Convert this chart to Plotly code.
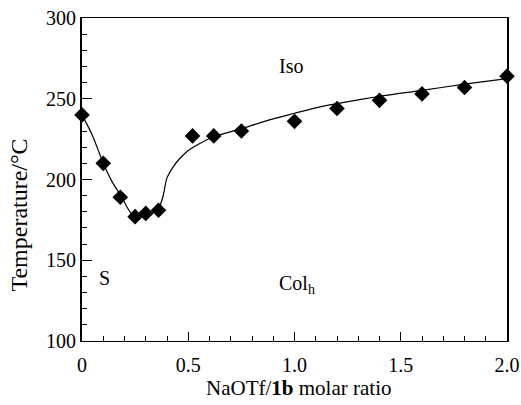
import plotly.graph_objects as go

# Measured transition temperatures vs NaOTf/1b molar ratio
ratio = [0, 0.1, 0.18, 0.25, 0.3, 0.36, 0.52, 0.62, 0.75, 1.0, 1.2, 1.4, 1.6, 1.8, 2.0]
temperature = [240, 210, 189, 177, 179, 181, 227, 227, 230, 236, 244, 249, 253, 257, 264]

# Hand-drawn phase boundary guide line
boundary_x = [0, 0.05, 0.1, 0.14, 0.185, 0.24, 0.295, 0.355, 0.38, 0.40, 0.43, 0.46,
              0.5, 0.55, 0.62, 0.74, 0.87, 1.0, 1.12, 1.2, 1.4, 1.6, 1.8, 2.0]
boundary_y = [240, 227, 210, 199, 189.5, 178, 179, 181, 189, 201, 208, 213,
              218, 222, 226.5, 231, 236.5, 241, 245, 247, 251.5, 255.2, 259, 262.5]

# Phase region labels
phase_labels = ["Iso", "S", "Col<sub>h</sub>"]
phase_x = [0.916, 0.07, 0.916]
phase_y = [270.5, 139, 135]

x_ticks = [0, 0.5, 1.0, 1.5, 2.0]
x_tick_text = ["0", "0.5", "1.0", "1.5", "2.0"]
y_ticks = [100, 150, 200, 250, 300]

FONT = "Liberation Serif, Times New Roman, serif"

fig = go.Figure()
fig.add_trace(go.Scatter(
    x=boundary_x, y=boundary_y, mode="lines",
    line=dict(color="black", width=1.2, shape="spline", smoothing=0.8),
    hoverinfo="skip", showlegend=False,
))
fig.add_trace(go.Scatter(
    x=ratio, y=temperature, mode="markers",
    marker=dict(symbol="diamond", size=12, color="black"),
    showlegend=False, cliponaxis=False,
))

for txt, px, py in zip(phase_labels, phase_x, phase_y):
    fig.add_annotation(x=px, y=py, text=txt, showarrow=False, xanchor="left",
                       font=dict(family=FONT, size=20, color="black"))

# Axis titles
fig.add_annotation(xref="paper", yref="paper", x=0.51, y=-0.146,
                   text="NaOTf/<b>1b</b> molar ratio", showarrow=False,
                   xanchor="center", yanchor="middle",
                   font=dict(family=FONT, size=21, color="black"))
fig.add_annotation(xref="paper", yref="paper", x=-0.147, y=0.39,
                   text="Temperature/°C", showarrow=False, textangle=-90,
                   xanchor="center", yanchor="middle",
                   font=dict(family=FONT, size=24, color="black"))

fig.update_xaxes(
    range=[0, 2.0], tickvals=x_ticks, ticktext=x_tick_text,
    ticks="inside", ticklen=9, tickwidth=1.2, tickcolor="black",
    minor=dict(dtick=0.1, ticks="inside", ticklen=5, tickwidth=1, tickcolor="black"),
    showline=True, linecolor="black", linewidth=1, mirror=True,
    showgrid=False, zeroline=False, automargin=False, ticklabelstandoff=6,
    tickfont=dict(family=FONT, size=20, color="black"),
)
fig.update_yaxes(
    range=[100, 300], tickvals=y_ticks,
    ticks="inside", ticklen=10, tickwidth=1.2, tickcolor="black",
    minor=dict(dtick=10, ticks="inside", ticklen=5, tickwidth=1, tickcolor="black"),
    showline=True, linecolor="black", linewidth=2, mirror=True,
    showgrid=False, zeroline=False, automargin=False,
    tickfont=dict(family=FONT, size=20, color="black"),
)

fig.update_layout(
    width=521, height=405,
    margin=dict(l=82, r=14, t=18, b=64),
    plot_bgcolor="white", paper_bgcolor="white",
)

fig.write_html("out.html")
